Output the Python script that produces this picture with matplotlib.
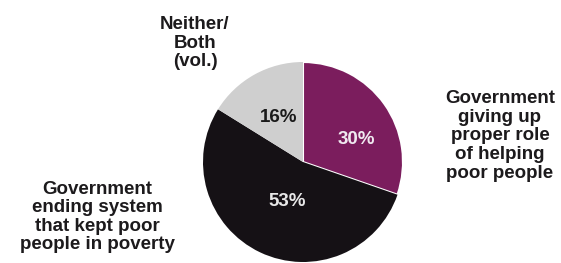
import matplotlib
matplotlib.use("Agg")
import matplotlib.pyplot as plt

# answers, share in percent
labels = ["Government\ngiving up\nproper role\nof helping\npoor people",
          "Government\nending system\nthat kept poor\npeople in poverty",
          "Neither/\nBoth\n(vol.)"]
shares = [30, 53, 16]
colors = ["#7b1d5d", "#151115", "#cfcfcf"]
pct_colors = ["#f0eaf0", "#e8e8e8", "#1a1a1a"]

plt.rcParams['font.family'] = ['Liberation Sans', 'DejaVu Sans']

fig = plt.figure(figsize=(5.61, 2.63), dpi=100)
ax = fig.add_axes([0, 0, 1, 1])

cx, cy, r = 303, 101, 100
wedges, _ = ax.pie(shares, colors=colors, startangle=90, counterclock=False,
                   center=(cx, cy), radius=r, frame=True,
                   wedgeprops=dict(linewidth=0))
wedges[0].set_edgecolor("white")
wedges[0].set_linewidth(1.5)
ax.set_xlim(0, 561)
ax.set_ylim(0, 263)
ax.axis('off')

# percent labels inside the slices
pct_pos = [(356, 123), (287, 61), (279, 146)]
for s, (x, y), c in zip(shares, pct_pos, pct_colors):
    ax.text(x, y, "%d%%" % s, ha='center', va='center', color=c,
            fontsize=13.5, fontweight='bold')

# category labels around the pie
txt = dict(ha='center', va='center', color="#1c1a1c", fontsize=13.5,
           fontweight='bold', linespacing=1.12)
ax.text(500, 127, labels[0], **txt)
ax.text(97, 46, labels[1], **txt)
ax.text(195, 220, labels[2], **txt)

fig.savefig("out.png", dpi=100, facecolor="white")
